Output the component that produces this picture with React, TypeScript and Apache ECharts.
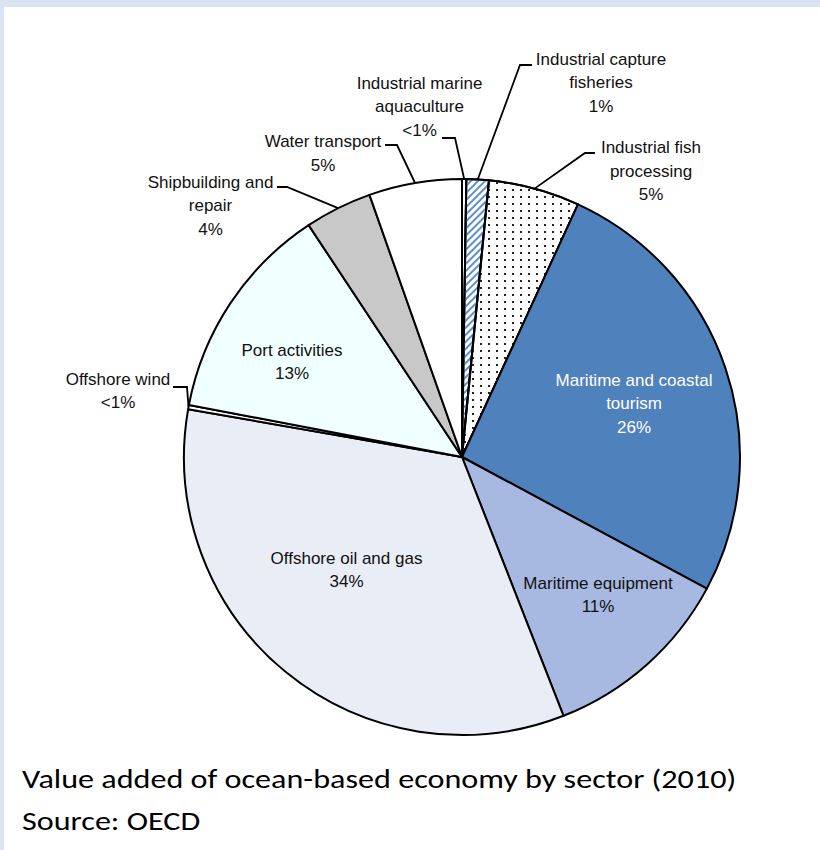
import React, { useEffect, useRef } from 'react';
import * as echarts from 'echarts';

// ---- data ----
const sectors = [
  'Industrial marine aquaculture',
  'Industrial capture fisheries',
  'Industrial fish processing',
  'Maritime and coastal tourism',
  'Maritime equipment',
  'Offshore oil and gas',
  'Offshore wind',
  'Port activities',
  'Shipbuilding and repair',
  'Water transport',
];
const displayNames = [
  'Industrial marine\naquaculture',
  'Industrial capture\nfisheries',
  'Industrial fish\nprocessing',
  'Maritime and coastal\ntourism',
  'Maritime equipment',
  'Offshore oil and gas',
  'Offshore wind',
  'Port activities',
  'Shipbuilding and\nrepair',
  'Water transport',
];
const shares = [0.25, 1.3, 5.3, 26.0, 11.2, 33.7, 0.25, 12.7, 3.9, 5.4];
const shareLabels = ['<1%', '1%', '5%', '26%', '11%', '34%', '<1%', '13%', '4%', '5%'];

const captionLines = ['Value added of ocean-based economy by sector (2010)', 'Source: OECD'];

// ---- styles / layout ----
const fills = ['#ffffff', '#ffffff', '#ffffff', '#4f81bd', '#a7b8e1', '#e9edf6', '#ffffff', '#f0ffff', '#c8c8c8', '#ffffff'];
const labelColors = ['#111', '#111', '#111', '#ffffff', '#111', '#111', '#111', '#111', '#111', '#111'];
const LH = 23.5;
type LP = { x: number; y: number; elbow?: number[]; end?: number[] };
const labelPos: LP[] = [
  { x: 419.5, y: 83.3, elbow: [455, 138], end: [442, 138] },
  { x: 601, y: 59, elbow: [520, 65], end: [532, 65] },
  { x: 651, y: 147.5, elbow: [585, 153], end: [595, 153] },
  { x: 634, y: 380 },
  { x: 598, y: 583 },
  { x: 346.5, y: 558 },
  { x: 118, y: 379, elbow: [187, 387], end: [173, 387] },
  { x: 292, y: 350 },
  { x: 210.5, y: 182, elbow: [287, 187], end: [277, 187] },
  { x: 323, y: 141.7, elbow: [397, 145], end: [385, 145] },
];

const hatchDecal = {
  symbol: 'rect',
  symbolSize: 1,
  dashArrayX: [1, 0],
  dashArrayY: [2, 3],
  rotation: -Math.PI / 4,
  color: '#5f8fd0',
  backgroundColor: '#ffffff',
};
const dotDecal = {
  symbol: 'rect',
  symbolSize: 1,
  dashArrayX: [2, 6],
  dashArrayY: [2, 5],
  rotation: 0,
  color: '#222222',
  backgroundColor: '#ffffff',
};

const captionFont = 'Carlito, "Open Sans", sans-serif';

export default function App() {
  const ref = useRef<HTMLDivElement>(null);
  useEffect(() => {
    if (!ref.current) return;
    const chart = echarts.init(ref.current, null, { renderer: 'svg' });
    const data = sectors.map((name, i) => {
      const inside = !labelPos[i].elbow;
      const item: any = {
        name,
        value: shares[i],
        itemStyle: { color: fills[i] },
        label: {
          position: inside ? 'inside' : 'outside',
          color: labelColors[i],
        },
        labelLine: { show: !inside },
      };
      if (i === 1) item.itemStyle.decal = hatchDecal;
      if (i === 2) item.itemStyle.decal = dotDecal;
      return item;
    });
    chart.setOption({
      animation: false,
      backgroundColor: '#ffffff',
      graphic: [
        { type: 'rect', shape: { x: 0, y: 0, width: 820, height: 7 }, style: { fill: '#dae3f3' }, z: 0 },
        { type: 'rect', shape: { x: 0, y: 0, width: 4, height: 850 }, style: { fill: '#dae3f3' }, z: 0 },
        {
          type: 'text', x: 22, y: 779, scaleX: 1.236,
          style: { text: captionLines[0], fontSize: 26, fontFamily: captionFont, fill: '#000', verticalAlign: 'middle', align: 'left' },
        },
        {
          type: 'text', x: 22, y: 821, scaleX: 1.236,
          style: { text: captionLines[1], fontSize: 26, fontFamily: captionFont, fill: '#000', verticalAlign: 'middle', align: 'left' },
        },
      ],
      series: [
        {
          type: 'pie',
          center: [462, 457],
          radius: [0, 278],
          startAngle: 90,
          clockwise: true,
          avoidLabelOverlap: false,
          data,
          itemStyle: { borderColor: '#000', borderWidth: 2 },
          emphasis: { disabled: true },
          label: {
            show: true,
            formatter: (p: any) => displayNames[p.dataIndex] + '\n' + shareLabels[p.dataIndex],
            fontFamily: '"Liberation Sans", Arial, sans-serif',
            fontSize: 17,
            lineHeight: LH,
            align: 'center',
          },
          labelLine: { show: true, length: 20, length2: 10, lineStyle: { color: '#000', width: 1.8 } },
          labelLayout: (params: any) => {
            const p = labelPos[params.dataIndex];
            const res: any = { x: p.x, y: p.y - LH / 2, align: 'center', verticalAlign: 'top' };
            if (p.elbow && params.labelLinePoints) {
              res.labelLinePoints = [params.labelLinePoints[0], p.elbow, p.end];
            }
            return res;
          },
        },
      ],
    });
    return () => chart.dispose();
  }, []);
  return (
    <div
      ref={ref}
      style={{ position: 'fixed', left: 0, top: 0, width: 820, height: 850, background: '#fff' }}
    />
  );
}
